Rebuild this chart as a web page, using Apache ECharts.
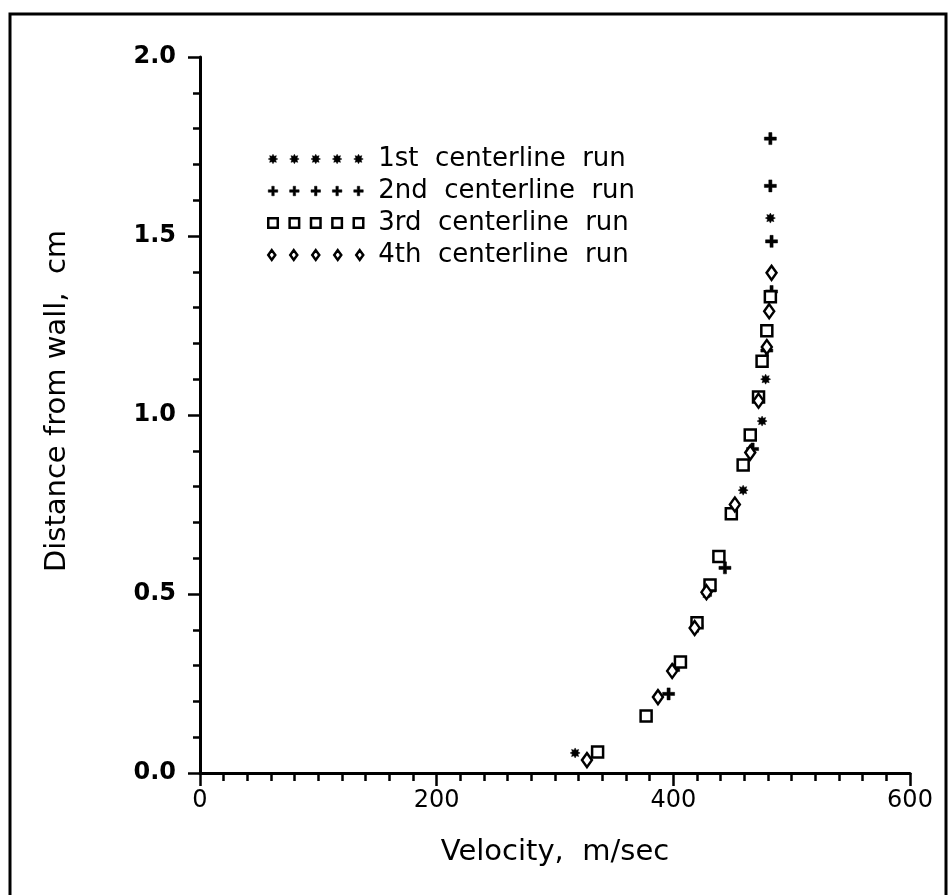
<!DOCTYPE html>
<html>
<head>
<meta charset="utf-8">
<script src="https://cdn.jsdelivr.net/npm/echarts@6/dist/echarts.min.js"></script>
<style>
html,body{margin:0;padding:0;background:#fff;}
#chart{width:951px;height:895px;}
</style>
</head>
<body>
<div id="chart"></div>
<script>
// ---- data (velocity m/sec, distance from wall cm) ----
var seriesNames = ['1st  centerline  run', '2nd  centerline  run', '3rd  centerline  run', '4th  centerline  run'];
var run1 = [[317,0.056],[402,0.296],[419,0.41],[428,0.50],[459,0.79],[475,0.983],[473,1.045],[478,1.10],[482,1.55]];
var run2 = [[396,0.221],[404,0.30],[420,0.41],[431,0.51],[443.6,0.573],[467,0.905],[479,1.18],[483,1.345],[483,1.485],[482,1.64],[482,1.772]];
var run3 = [[336,0.059],[377,0.159],[406,0.31],[420,0.42],[431,0.525],[438.5,0.605],[449,0.724],[459,0.86],[465,0.944],[472,1.05],[475,1.15],[479,1.235],[482,1.33]];
var run4 = [[327,0.036],[387,0.212],[399,0.285],[418,0.405],[428,0.505],[452,0.75],[465,0.895],[472,1.04],[479,1.19],[481,1.29],[483,1.397]];
var xTicks = [0, 200, 400, 600];
var yTicks = [0.0, 0.5, 1.0, 1.5, 2.0];

// ---- symbol shapes ----
function f(n){ return n.toFixed(2); }
function shape(type, cx, cy, s){
  var p = '', i, r, a, h = s/2;
  if (type === 'star') {
    for (i = 0; i < 16; i++) {
      r = (i % 2) ? h*0.6 : h;
      a = i*Math.PI/8;
      p += (i ? 'L' : 'M') + f(cx + r*Math.cos(a)) + ' ' + f(cy + r*Math.sin(a)) + ' ';
    }
    return p + 'Z ';
  }
  if (type === 'plus') {
    var w = s*0.13;
    return 'M'+f(cx-w)+' '+f(cy-h)+' L'+f(cx+w)+' '+f(cy-h)+' L'+f(cx+w)+' '+f(cy-w)+' L'+f(cx+h)+' '+f(cy-w)+
      ' L'+f(cx+h)+' '+f(cy+w)+' L'+f(cx+w)+' '+f(cy+w)+' L'+f(cx+w)+' '+f(cy+h)+' L'+f(cx-w)+' '+f(cy+h)+
      ' L'+f(cx-w)+' '+f(cy+w)+' L'+f(cx-h)+' '+f(cy+w)+' L'+f(cx-h)+' '+f(cy-w)+' L'+f(cx-w)+' '+f(cy-w)+' Z ';
  }
  if (type === 'rect') {
    return 'M'+f(cx-h)+' '+f(cy-h)+' L'+f(cx+h)+' '+f(cy-h)+' L'+f(cx+h)+' '+f(cy+h)+' L'+f(cx-h)+' '+f(cy+h)+' Z ';
  }
  // diamond
  return 'M'+f(cx)+' '+f(cy-h)+' L'+f(cx+h*0.72)+' '+f(cy)+' L'+f(cx)+' '+f(cy+h)+' L'+f(cx-h*0.72)+' '+f(cy)+' Z ';
}
function symbolPath(type){ return 'path://' + shape(type, 5, 5, 10); }
function legendPath(type){
  var p = '';
  for (var k = 0; k < 5; k++) p += shape(type, 5 + k*22.5, 5, 10);
  return 'path://' + p;
}

var types = ['star', 'plus', 'rect', 'diamond'];
var datas = [run1, run2, run3, run4];
var sizes = [[10,10],[12,12],[11,11],[10,14]];
var hollow = [false, false, true, true];

var FONT = 'DejaVu Sans';
function styleFor(i){
  return hollow[i]
    ? { color: '#fff', borderColor: '#000', borderWidth: 2.5, opacity: 1 }
    : { color: '#000', borderColor: '#000', borderWidth: 0.5, opacity: 1 };
}
var series = [];
for (var i = 0; i < 4; i++) {
  series.push({
    type: 'scatter',
    name: seriesNames[i],
    data: datas[i],
    symbol: symbolPath(types[i]),
    symbolSize: sizes[i],
    itemStyle: styleFor(i),
    emphasis: { disabled: true }
  });
}

var chart = echarts.init(document.getElementById('chart'), null, { renderer: 'canvas' });
chart.setOption({
  animation: false,
  backgroundColor: '#fff',
  textStyle: { fontFamily: FONT, color: '#000' },
  graphic: [{
    type: 'rect', silent: true,
    shape: { x: 10, y: 14, width: 936, height: 900 },
    style: { fill: 'none', stroke: '#000', lineWidth: 3 }
  }],
  grid: { left: 200, right: 41, top: 57, bottom: 122, containLabel: false },
  legend: {
    orient: 'vertical',
    left: 267,
    top: 146,
    padding: 0,
    itemWidth: 95,
    itemHeight: 10,
    itemGap: 6,
    selectedMode: false,
    data: seriesNames.map(function(n, i){
      return { name: n, icon: legendPath(types[i]), itemStyle: styleFor(i) };
    }),
    textStyle: { fontFamily: FONT, fontSize: 26, lineHeight: 26, color: '#000', padding: [0,0,0,10] }
  },
  xAxis: {
    type: 'value',
    min: xTicks[0], max: xTicks[xTicks.length-1], interval: 200,
    name: 'Velocity,  m/sec',
    nameLocation: 'middle',
    nameGap: 65,
    nameTextStyle: { fontFamily: FONT, fontSize: 29, color: '#000' },
    axisLine: { show: true, onZero: false, lineStyle: { color: '#000', width: 3 } },
    axisTick: { show: true, inside: false, length: 13, lineStyle: { color: '#000', width: 2.5 } },
    minorTick: { show: true, splitNumber: 10, length: 8, lineStyle: { color: '#000', width: 2.5 } },
    splitLine: { show: false },
    minorSplitLine: { show: false },
    axisLabel: { margin: 16, fontFamily: FONT, fontSize: 24, color: '#000' }
  },
  yAxis: {
    type: 'value',
    min: yTicks[0], max: yTicks[yTicks.length-1], interval: 0.5,
    name: 'Distance from wall,  cm',
    nameLocation: 'middle',
    nameGap: 128,
    nameRotate: 90,
    nameTextStyle: { fontFamily: FONT, fontSize: 29, color: '#000', padding: [0,0,0,28] },
    axisLine: { show: true, onZero: false, lineStyle: { color: '#000', width: 3 } },
    axisTick: { show: true, inside: false, length: 12, lineStyle: { color: '#000', width: 2.5 } },
    minorTick: { show: true, splitNumber: 5, length: 7, lineStyle: { color: '#000', width: 2.5 } },
    splitLine: { show: false },
    minorSplitLine: { show: false },
    axisLabel: {
      margin: 24, fontFamily: FONT, fontSize: 24, fontWeight: 'bold', color: '#000',
      formatter: function(v){ return v.toFixed(1); }
    }
  },
  series: series
});
</script>
</body>
</html>
